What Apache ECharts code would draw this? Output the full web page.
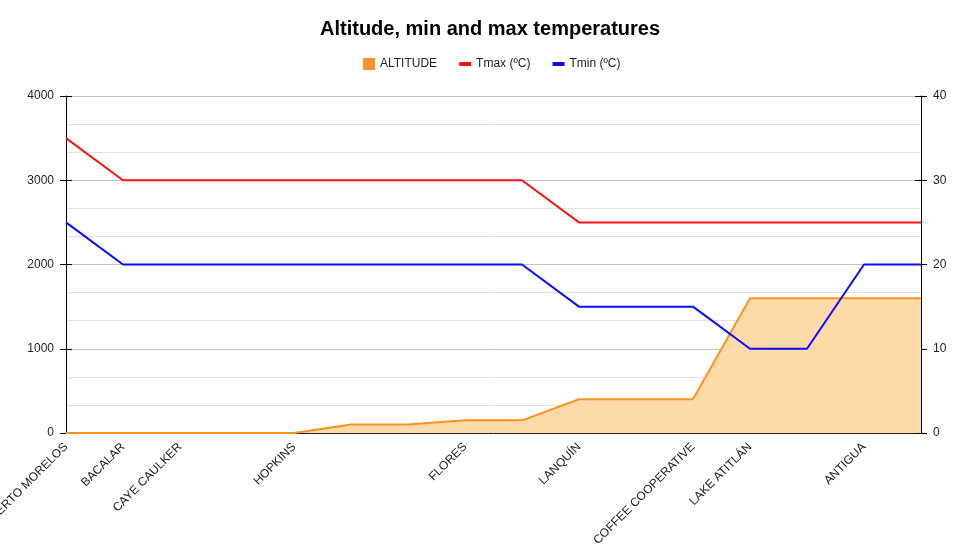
<!DOCTYPE html>
<html><head><meta charset="utf-8">
<script src="https://cdn.jsdelivr.net/npm/echarts@6/dist/echarts.min.js"></script>
<style>html,body{margin:0;padding:0;background:#fff}#c{width:958px;height:552px}</style>
</head><body><div id="c"></div>
<script>
const categories = ['PUERTO MORELOS','BACALAR','CAYE CAULKER','','HOPKINS','','','FLORES','','LANQUÍN','','COFFEE COOPERATIVE','LAKE ATITLÁN','','ANTIGUA',''];
const altitude = [0,0,0,0,0,100,100,150,150,400,400,400,1600,1600,1600,1600];
const tmax = [35,30,30,30,30,30,30,30,30,25,25,25,25,25,25,25];
const tmin = [25,20,20,20,20,20,20,20,20,15,15,15,10,10,20,20];
const leftTicks = [0,1000,2000,3000,4000];
const rightTicks = [0,10,20,30,40];

const font = 'Arial, "Liberation Sans", sans-serif';
const lineIcon = 'path://M0,0M0,4h12v4h-12zM12,12';
const chart = echarts.init(document.getElementById('c'));
const baseY = (ticks,pos)=>({type:'value',position:pos,min:ticks[0],max:ticks[ticks.length-1],interval:ticks[1]-ticks[0]});
chart.setOption({
  animation:false,
  textStyle:{fontFamily:font},
  title:{text:'Altitude, min and max temperatures',left:315,top:14,
    textStyle:{fontFamily:font,fontSize:20,fontWeight:'bold',color:'#000'}},
  legend:{top:53,left:358,itemWidth:12,itemHeight:12,itemGap:22,
    textStyle:{fontFamily:font,fontSize:12,color:'#222'},
    data:[{name:'ALTITUDE',icon:'rect'},{name:'Tmax (ºC)',icon:lineIcon},{name:'Tmin (ºC)',icon:lineIcon}]},
  grid:{left:66,right:37,top:96,bottom:119,containLabel:false,outerBoundsMode:'none'},
  xAxis:{type:'category',data:categories,boundaryGap:false,
    axisLine:{lineStyle:{color:'#222',width:1}},axisTick:{show:false},
    axisLabel:{interval:0,rotate:45,fontSize:12,color:'#222',fontFamily:font,margin:12}},
  yAxis:[
    Object.assign(baseY(leftTicks,'left'),{
      axisLine:{show:true,lineStyle:{color:'#000'}},
      axisTick:{show:true,length:6,lineStyle:{color:'#000'}},
      axisLabel:{fontSize:12,color:'#222',fontFamily:font,margin:12,formatter:v=>String(v)},
      splitLine:{show:true,lineStyle:{color:'#c4c4c4'}},
      minorTick:{show:false,splitNumber:3},
      minorSplitLine:{show:true,lineStyle:{color:'#e2e2e2'}}}),
    Object.assign(baseY(rightTicks,'right'),{
      axisLine:{show:true,lineStyle:{color:'#000'}},
      axisTick:{show:true,length:6,lineStyle:{color:'#000'}},
      axisLabel:{fontSize:12,color:'#222',fontFamily:font,margin:12,formatter:v=>String(v)},
      splitLine:{show:false}}),
    Object.assign(baseY(leftTicks,'left'),{
      axisLine:{show:false},axisTick:{show:true,inside:true,length:6,lineStyle:{color:'#000'}},
      axisLabel:{show:false},splitLine:{show:false}}),
    Object.assign(baseY(rightTicks,'right'),{
      axisLine:{show:false},axisTick:{show:true,inside:true,length:6,lineStyle:{color:'#000'}},
      axisLabel:{show:false},splitLine:{show:false}})
  ],
  series:[
    {name:'ALTITUDE',type:'line',yAxisIndex:0,data:altitude,symbol:'none',
      itemStyle:{color:'#ff9224'},lineStyle:{color:'#ff921e',width:2},
      areaStyle:{color:'#fddaa8',opacity:1},z:1},
    {name:'Tmax (ºC)',type:'line',yAxisIndex:1,data:tmax,symbol:'none',
      itemStyle:{color:'#ff0f0f'},lineStyle:{color:'#ff1010',width:2},z:3},
    {name:'Tmin (ºC)',type:'line',yAxisIndex:1,data:tmin,symbol:'none',
      itemStyle:{color:'#0a0aff'},lineStyle:{color:'#0b0bff',width:2},z:3}
  ]
});
</script></body></html>
